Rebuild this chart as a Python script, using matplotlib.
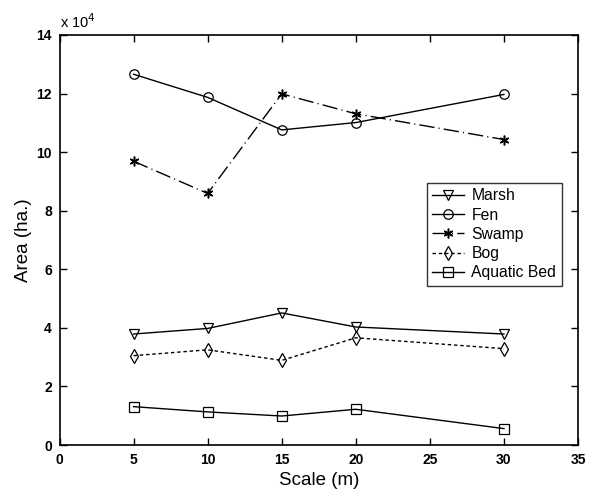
import matplotlib
matplotlib.use("Agg")
import matplotlib.pyplot as plt

plt.rcParams['font.family'] = ['Liberation Sans', 'DejaVu Sans']

# x values: scale (m); y values in units of 10^4 ha
scale = [5, 10, 15, 20, 30]
marsh = [3.79, 3.98, 4.51, 4.03, 3.79]
fen = [12.66, 11.87, 10.76, 11.01, 11.97]
swamp = [9.69, 8.59, 11.99, 11.31, 10.43]
bog = [3.05, 3.25, 2.89, 3.66, 3.29]
aquatic = [1.31, 1.13, 0.99, 1.22, 0.56]

xticks = [0, 5, 10, 15, 20, 25, 30, 35]
yticks = [0, 2, 4, 6, 8, 10, 12, 14]

fig = plt.figure(figsize=(5.94, 4.90), dpi=100)
ax = fig.add_axes([59.5/594, 1-445/490, (578-59.5)/594, (445-35)/490])

kw = dict(color='black', lw=1.0, markersize=6.8, markerfacecolor='none',
          markeredgecolor='black', markeredgewidth=0.9)
ax.plot(scale, marsh, linestyle='-', marker='v', label='Marsh', **kw)
ax.plot(scale, fen, linestyle='-', marker='o', label='Fen', **kw)
ax.plot(scale, swamp, linestyle=(0, (11, 3, 0.8, 3)), marker=(6, 2, 0), label='Swamp',
        color='black', lw=1.0, markersize=7, markeredgewidth=1.1)
ax.plot(scale, bog, linestyle=(0, (2.5, 2)), marker='d', label='Bog', **kw)
ax.plot(scale, aquatic, linestyle='-', marker='s', label='Aquatic Bed', **kw)

ax.set_xlim(0, 35)
ax.set_ylim(0, 14)
ax.set_xticks(xticks)
ax.set_yticks(yticks)
ax.tick_params(direction='in', top=True, right=True, length=5, width=1,
               labelsize=10, pad=5.5)
for lab in ax.get_xticklabels() + ax.get_yticklabels():
    lab.set_fontweight('bold')
for s in ax.spines.values():
    s.set_linewidth(1.2)

ax.set_xlabel('Scale (m)', fontsize=13.5)
ax.set_ylabel('Area (ha.)', fontsize=13.5)
ax.xaxis.set_label_coords(0.5, (445-480)/410)
ax.yaxis.set_label_coords((24-59.5)/518.5, 0.5)
ax.xaxis.label.set_va('center')
ax.yaxis.label.set_va('center')
ax.text(0.0, 1.01, r'x 10$^4$', transform=ax.transAxes, fontsize=10.5,
        ha='left', va='bottom')

leg = ax.legend(loc='upper left', bbox_to_anchor=((426.7-59.5)/518.5, (445-183)/410),
                frameon=True, fancybox=False, edgecolor='black', fontsize=11.3,
                handlelength=2.0, handletextpad=0.5, labelspacing=0.27,
                borderpad=0.35, borderaxespad=0)
leg.get_frame().set_linewidth(1.0)

fig.savefig('out.png', dpi=100)
